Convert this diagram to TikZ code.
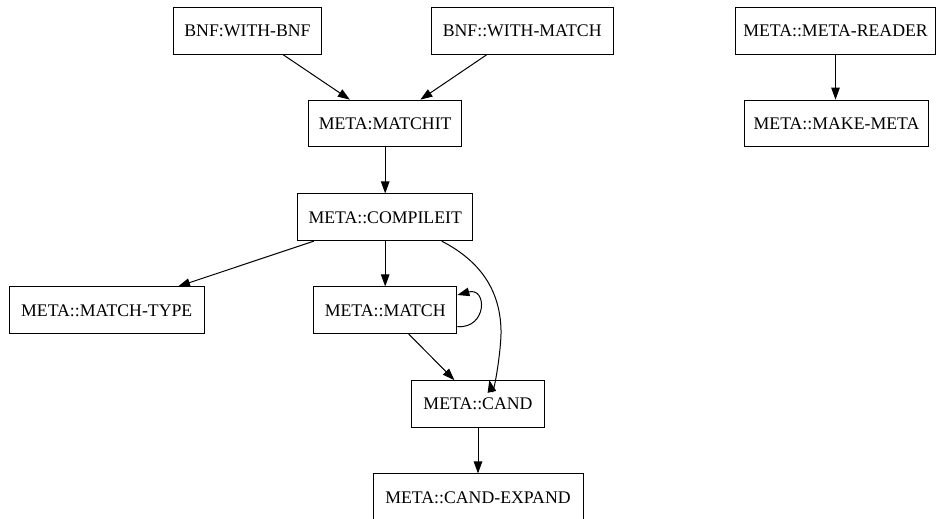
\documentclass[tikz,border=0pt]{standalone}
\usepackage{fontspec}
\setmainfont{Liberation Serif}
\usetikzlibrary{arrows.meta}
\begin{document}
\begin{tikzpicture}[x=1pt,y=1pt,
  box/.style={draw, line width=1pt, rectangle, inner sep=0pt, minimum height=46.7pt,
    font=\fontsize{17.75}{20}\selectfont},
  edge/.style={line width=1pt, -{Triangle[length=12pt,width=8.5pt]}}]
\useasboundingbox (0,0) rectangle (937,519);
\node[box, minimum width=148.3pt] (wbnf) at (247.5,488.3) {BNF:WITH-BNF};
\node[box, minimum width=182.3pt] (wmatch) at (522.2,488.3) {BNF::WITH-MATCH};
\node[box, minimum width=153pt] (matchit) at (385.2,395.5) {META:MATCHIT};
\node[box, minimum width=175pt] (compileit) at (385.2,301.7) {META::COMPILEIT};
\node[box, minimum width=194.7pt] (mtype) at (106.7,208.7) {META::MATCH-TYPE};
\node[box, minimum width=143.3pt] (match) at (385.2,208.7) {META::MATCH};
\node[box, minimum width=132.3pt] (cand) at (478,115) {META::CAND};
\node[box, minimum width=210pt] (candexp) at (478,21.7) {META::CAND-EXPAND};
\node[box, minimum width=200pt] (reader) at (835.5,488.3) {META::META-READER};
\node[box, minimum width=184.7pt] (makemeta) at (836.5,395.5) {META::MAKE-META};

\draw[edge] (wbnf) -- (matchit);
\draw[edge] (wmatch) -- (matchit);
\draw[edge] (matchit) -- (compileit);
\draw[edge] (compileit) -- (mtype);
\draw[edge] (compileit) -- (match);
\draw[edge] ([xshift=56.5pt]compileit.south) .. controls +(33,-17) and +(-1,45) .. (501,189)
  .. controls +(0.5,-20) and +(4,-18) .. ([xshift=11.3pt]cand.north);
\draw[edge] ([yshift=-16.4pt]match.east) .. controls +(30,-2) and +(30,8) .. ([yshift=15.3pt]match.east);
\draw[edge] (match) -- (cand);
\draw[edge] (cand) -- (candexp);
\draw[edge] (reader) -- (reader |- makemeta.north);
\end{tikzpicture}
\end{document}
